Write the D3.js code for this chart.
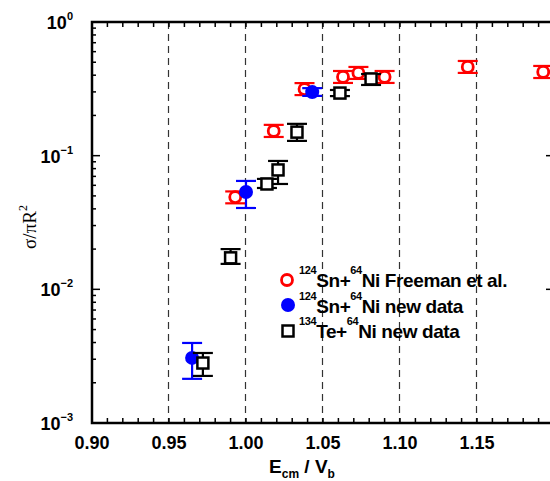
<!DOCTYPE html>
<html>
<head>
<meta charset="utf-8">
<script src="https://cdn.jsdelivr.net/npm/d3@7"></script>
<style>
  body { margin: 0; background: #fff; }
  svg { display: block; }
  .tick-x { font-family: "Liberation Sans Narrow", "Liberation Sans", Arial, sans-serif; font-weight: bold; font-size: 18px; }
  .tick-y, .legend, .xlabel { font-family: "Liberation Sans", Arial, sans-serif; font-weight: bold; }
</style>
</head>
<body>
<svg id="chart"></svg>
<script>
// Freeman et al. (124Sn+64Ni)
const freemanX  = [0.993, 1.018, 1.038, 1.063, 1.073, 1.090, 1.144, 1.193];
const freemanY  = [0.049, 0.153, 0.315, 0.388, 0.416, 0.388, 0.461, 0.423];
const freemanLo = [0.044, 0.138, 0.284, 0.350, 0.375, 0.350, 0.416, 0.381];
const freemanHi = [0.054, 0.170, 0.349, 0.430, 0.461, 0.430, 0.511, 0.469];

// 124Sn+64Ni new data
const snNewX  = [0.965, 1.000, 1.043];
const snNewY  = [0.00307, 0.0535, 0.299];
const snNewLo = [0.00214, 0.0406, 0.280];
const snNewHi = [0.00397, 0.0647, 0.320];

// 134Te+64Ni new data
const teNewX  = [0.972, 0.990, 1.0136, 1.0208, 1.0331, 1.061, 1.0812];
const teNewY  = [0.00281, 0.0172, 0.0614, 0.0782, 0.150, 0.294, 0.375];
const teNewLo = [0.00225, 0.0155, 0.0573, 0.0614, 0.129, 0.279, 0.338];
const teNewHi = [0.00334, 0.0200, 0.0670, 0.0913, 0.173, 0.310, 0.408];

const xTickLabels = ["0.90", "0.95", "1.00", "1.05", "1.10", "1.15"];
const yDecades = [-3, -2, -1, 0];
const gridX = [0.95, 1.00, 1.05, 1.10, 1.15];

const width = 550, height = 481;
const mLeft = 92, mRight = 554, mTop = 22, mBottom = 423;

const svg = d3.select("#chart").attr("width", width).attr("height", height);

const x = d3.scaleLinear().domain([0.90, 1.20]).range([mLeft, mRight]);
const y = d3.scaleLog().domain([1e-3, 1]).range([mBottom, mTop]);

// dashed verticals
svg.append("g").selectAll("line")
    .data(gridX)
    .enter().append("line")
    .attr("x1", d => Math.round(x(d)) - 0.5).attr("x2", d => Math.round(x(d)) - 0.5)
    .attr("y1", mTop).attr("y2", mBottom)
    .attr("stroke", "#333")
    .attr("stroke-width", 1.2)
    .attr("stroke-dasharray", "7,5");

// x ticks every 0.01, inward on bottom and top
const xMinor = d3.range(0, 31).map(i => 0.90 + i * 0.01);
const tg = svg.append("g").attr("stroke", "#000").attr("stroke-width", 1.5);
xMinor.forEach(v => {
    tg.append("line").attr("x1", x(v)).attr("x2", x(v)).attr("y1", mBottom).attr("y2", mBottom - 5);
    tg.append("line").attr("x1", x(v)).attr("x2", x(v)).attr("y1", mTop).attr("y2", mTop + 5);
});

// y ticks (log), inward left and right
yDecades.forEach(e => {
    const base = Math.pow(10, e);
    tg.append("line").attr("x1", mLeft).attr("x2", mLeft + 8).attr("y1", y(base)).attr("y2", y(base));
    tg.append("line").attr("x1", mRight).attr("x2", mRight - 8).attr("y1", y(base)).attr("y2", y(base));
    if (e < 0) {
        for (let k = 2; k <= 9; k++) {
            const v = base * k;
            tg.append("line").attr("x1", mLeft).attr("x2", mLeft + 4).attr("y1", y(v)).attr("y2", y(v));
            tg.append("line").attr("x1", mRight).attr("x2", mRight - 4).attr("y1", y(v)).attr("y2", y(v));
        }
    }
});

// frame
svg.append("rect")
    .attr("x", mLeft).attr("y", mTop)
    .attr("width", mRight - mLeft).attr("height", mBottom - mTop)
    .attr("fill", "none").attr("stroke", "#000").attr("stroke-width", 2.5);

// x tick labels
svg.append("g").selectAll("text")
    .data(xTickLabels)
    .enter().append("text")
    .attr("class", "tick-x")
    .attr("x", d => x(+d))
    .attr("y", 449)
    .attr("text-anchor", "middle")
    .text(d => d);

// y tick labels
yDecades.forEach(e => {
    const t = svg.append("text")
        .attr("class", "tick-y")
        .attr("x", 73)
        .attr("y", y(Math.pow(10, e)) + 7)
        .attr("text-anchor", "end")
        .attr("font-size", 18);
    t.append("tspan").text("10");
    t.append("tspan").attr("font-size", 11).attr("dy", -9)
        .text(e === 0 ? "0" : "\u2212" + (-e));
});

// x label
const xl = svg.append("text").attr("class", "xlabel")
    .attr("x", 302).attr("y", 473).attr("text-anchor", "middle").attr("font-size", 19);
xl.append("tspan").text("E");
xl.append("tspan").attr("font-size", 12).attr("dy", 5).text("cm");
xl.append("tspan").attr("dy", -5).text(" / V");
xl.append("tspan").attr("font-size", 12).attr("dy", 5).text("b");

// y label
const yl = svg.append("text")
    .attr("transform", "translate(36,227) rotate(-90)")
    .attr("text-anchor", "middle")
    .attr("font-family", "'Liberation Serif', 'Times New Roman', serif")
    .attr("font-size", 19);
yl.append("tspan").text("\u03c3/\u03c0R");
yl.append("tspan").attr("font-size", 12).attr("dy", -9).text("2");

// error bars helper
function errorBars(xs, ys, lo, hi, color) {
    const g = svg.append("g").attr("stroke", color).attr("stroke-width", 2.2);
    xs.forEach((xv, i) => {
        const cx = x(xv);
        g.append("line").attr("x1", cx).attr("x2", cx).attr("y1", y(lo[i])).attr("y2", y(hi[i]));
        g.append("line").attr("x1", cx - 10).attr("x2", cx + 10).attr("y1", y(lo[i])).attr("y2", y(lo[i]));
        g.append("line").attr("x1", cx - 10).attr("x2", cx + 10).attr("y1", y(hi[i])).attr("y2", y(hi[i]));
    });
}

// Freeman: open red circles
errorBars(freemanX, freemanY, freemanLo, freemanHi, "#f00");
svg.append("g").selectAll("circle")
    .data(freemanX)
    .enter().append("circle")
    .attr("cx", d => x(d))
    .attr("cy", (d, i) => y(freemanY[i]))
    .attr("r", 5.5)
    .attr("fill", "#fff").attr("stroke", "#f00").attr("stroke-width", 2.8);

// Sn new: filled blue circles
errorBars(snNewX, snNewY, snNewLo, snNewHi, "#00f");
svg.append("g").selectAll("circle")
    .data(snNewX)
    .enter().append("circle")
    .attr("cx", d => x(d))
    .attr("cy", (d, i) => y(snNewY[i]))
    .attr("r", 7)
    .attr("fill", "#00f");

// Te new: open black squares
errorBars(teNewX, teNewY, teNewLo, teNewHi, "#000");
svg.append("g").selectAll("rect")
    .data(teNewX)
    .enter().append("rect")
    .attr("x", d => x(d) - 5.5)
    .attr("y", (d, i) => y(teNewY[i]) - 5.5)
    .attr("width", 11).attr("height", 11)
    .attr("fill", "#fff").attr("stroke", "#000").attr("stroke-width", 2.5);

// legend
const legendRows = [
    { mass: "124", el: "Sn+", rest: "Ni Freeman et al." },
    { mass: "124", el: "Sn+", rest: "Ni new data" },
    { mass: "134", el: "Te+", rest: "Ni new data" }
];
const lg = svg.append("g");
lg.append("circle").attr("cx", 287).attr("cy", 280).attr("r", 5.5)
    .attr("fill", "#fff").attr("stroke", "#f00").attr("stroke-width", 2.8);
lg.append("circle").attr("cx", 288).attr("cy", 305).attr("r", 7).attr("fill", "#00f");
lg.append("rect").attr("x", 282.5).attr("y", 325.5).attr("width", 11).attr("height", 11)
    .attr("fill", "#fff").attr("stroke", "#000").attr("stroke-width", 2.5);
legendRows.forEach((r, i) => {
    const t = lg.append("text").attr("class", "legend")
        .attr("x", 299).attr("y", 287 + i * 25.5).attr("font-size", 19)
        .attr("letter-spacing", -0.4);
    t.append("tspan").attr("font-size", 11).attr("dy", -13).text(r.mass);
    t.append("tspan").attr("dy", 13).text(r.el);
    t.append("tspan").attr("font-size", 11).attr("dy", -13).text("64");
    t.append("tspan").attr("dy", 13).text(r.rest);
});
</script>
</body>
</html>
